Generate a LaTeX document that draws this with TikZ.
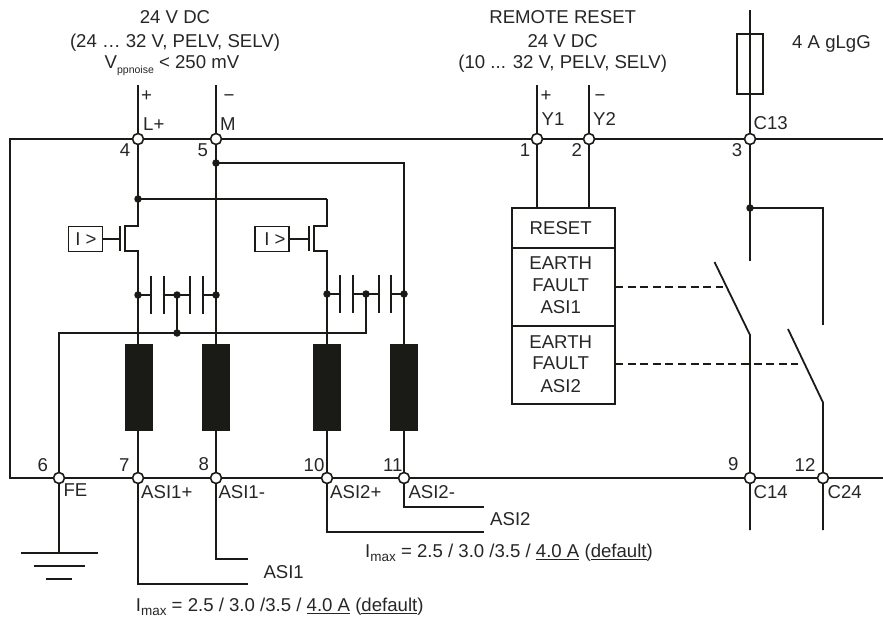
\documentclass[tikz,border=0pt]{standalone}
\usepackage{fontspec}
\setmainfont{Liberation Sans}
\definecolor{ink}{HTML}{1A1A17}
\definecolor{txt}{HTML}{262626}
\tikzset{
  wire/.style={draw=ink,line width=1.8pt},
  term/.style={circle,draw=ink,fill=white,line width=1.6pt,minimum size=11pt,inner sep=0pt},
  dot/.style={circle,fill=ink,draw=none,minimum size=7.5pt,inner sep=0pt},
  block/.style={rectangle,fill=ink,draw=none,minimum width=28pt,minimum height=87pt,inner sep=0pt},
  lbl/.style={text=txt,inner sep=0pt,anchor=base west,font=\fontsize{18.6}{22}\selectfont},
  ctr/.style={text=txt,inner sep=0pt,anchor=base,font=\fontsize{18.6}{22}\selectfont},
  ibox/.style={rectangle,draw=ink,line width=1.8pt,fill=white,minimum width=34pt,minimum height=25pt,inner sep=0pt},
  dashline/.style={draw=ink,line width=1.4pt,dash pattern=on 8pt off 4.6pt},
  thin bar/.style={draw=ink,line width=1.8pt}
}
\newcommand{\subx}[1]{\raisebox{-3.5pt}{\fontsize{13.5}{15}\selectfont #1}}
\begin{document}
\begin{tikzpicture}[x=1pt,y=-1pt]
\useasboundingbox (0,0) rectangle (883,618);
% named points
\coordinate (TL) at (10,139); \coordinate (BL) at (10,478);
\coordinate (TR) at (883,139); \coordinate (BR) at (883,478);
\coordinate (w4) at (138,85); \coordinate (w5) at (216,85);
\coordinate (w1) at (537,85); \coordinate (w2) at (589,85);
\coordinate (w3) at (750,10); \coordinate (c3) at (750,261);
\coordinate (s1a) at (714.5,262); \coordinate (s1b) at (750,335);
\coordinate (s2a) at (788,329); \coordinate (s2b) at (823,402.5);
\coordinate (c12) at (823,325);
\coordinate (e9) at (750,530); \coordinate (e12) at (823,530);
\coordinate (gnd) at (59,553);
% terminals (drawn on top later)
\path (138,139) coordinate (t4) (216,139) coordinate (t5) (537,139) coordinate (t1)
      (589,139) coordinate (t2) (750,139) coordinate (t3)
      (59,478) coordinate (t6) (138,478) coordinate (t7) (216,478) coordinate (t8)
      (327,478) coordinate (t10) (404,478) coordinate (t11) (750,478) coordinate (t9)
      (823,478) coordinate (t12);
% bus
\draw[wire] (TR) -- (TL) -- (BL) -- (BR);
% junction points
\path (138,199) coordinate (j4) (216,163) coordinate (j5) (327,199) coordinate (j4r)
      (404,163) coordinate (j5r) (750,208) coordinate (j3) (823,208) coordinate (j3r)
      (138,295) coordinate (ca) (177,295) coordinate (cb) (216,295) coordinate (cc)
      (327,294) coordinate (da) (366,294) coordinate (db) (404,294) coordinate (dc)
      (177,333) coordinate (fj) (366,333) coordinate (fr) (59,333) coordinate (fl);
% vertical feeds
\draw[wire] (w5) -- (t5) -- (t8);
\draw[wire] (w1) -- (t1) -- (537,208) coordinate (bx1);
\draw[wire] (w2) -- (t2) -- (589,208) coordinate (bx2);
\draw[wire] (w3) -- (c3);
\draw[wire] (j3) -- (j3r) -- (c12);
\draw[wire] (s1a) -- (s1b) -- (e9);
\draw[wire] (s2a) -- (s2b) -- (e12);
\draw[wire] (j5) -- (j5r) -- (t11);
\draw[wire] (j4) -- (j4r);
% MOSFET 1
\coordinate (m1d) at (138,226); \coordinate (m1s) at (138,251);
\coordinate (m1cd) at (125,226); \coordinate (m1cs) at (125,251);
\coordinate (m1gt) at (120,226); \coordinate (m1gb) at (120,251); \coordinate (m1g) at (120,239);
\draw[wire] (w4) -- (t4) -- (m1d) -- (m1cd) -- (m1cs) -- (m1s) -- (t7);
\draw[wire] (m1gt) -- (m1gb);
% MOSFET 2
\coordinate (m2d) at (327,226); \coordinate (m2s) at (327,251);
\coordinate (m2cd) at (314,226); \coordinate (m2cs) at (314,251);
\coordinate (m2gt) at (309,226); \coordinate (m2gb) at (309,251); \coordinate (m2g) at (309,239);
\draw[wire] (j4r) -- (m2d) -- (m2cd) -- (m2cs) -- (m2s) -- (t10);
\draw[wire] (m2gt) -- (m2gb);
% current sensing boxes
\node[ibox] (ib1) at (85.5,239) {};
\node[ibox] (ib2) at (271.7,239) {};
\draw[wire] (ib1.east) -- (m1g);
\draw[wire] (ib2.east) -- (m2g);
\node[ctr] (ib1t) at (86,245) {I >};
\node[ctr] (ib2t) at (275,245) {I >};
% capacitors left
\path (151,295) coordinate (p1) (164,295) coordinate (p2) (190,295) coordinate (p3) (203,295) coordinate (p4);
\draw[wire] (ca) -- (p1) (p2) -- (p3) (p4) -- (cc);
\foreach \x in {151,164,190,203} \draw[thin bar] (\x,276) -- (\x,314);
% capacitors right
\path (340,294) coordinate (q1) (353,294) coordinate (q2) (379,294) coordinate (q3) (391,294) coordinate (q4);
\draw[wire] (da) -- (q1) (q2) -- (q3) (q4) -- (dc);
\foreach \x in {340,353,379,391} \draw[thin bar] (\x,275) -- (\x,313);
% FE
\draw[wire] (cb) -- (fj);
\draw[wire] (db) -- (fr) -- (fl) -- (t6) -- (gnd);
\draw[wire] (20.5,553) -- (97.5,553);
\draw[wire] (33.5,566) -- (84.5,566);
\draw[wire] (46,579) -- (71.5,579);
% chokes
\node[block] (b1) at (138.7,387.7) {};
\node[block] (b2) at (215.5,387.7) {};
\node[block] (b3) at (327.2,387.7) {};
\node[block] (b4) at (404.2,387.7) {};
% output wires
\coordinate (a1p) at (248,584); \coordinate (a1m) at (248,559);
\coordinate (a2p) at (484.3,532); \coordinate (a2m) at (483.7,507);
\draw[wire] (t7) |- (a1p);
\draw[wire] (t8) |- (a1m);
\draw[wire] (t10) |- (a2p);
\draw[wire] (t11) |- (a2m);
% fuse
\draw[wire] (737,34) rectangle (763,94);
% control box
\draw[wire] (512,208) rectangle (615,404);
\coordinate (sL1) at (512,248); \coordinate (sR1) at (615,248);
\coordinate (sL2) at (512,326); \coordinate (sR2) at (615,326);
\draw[wire] (sL1) -- (sR1);
\draw[wire,line width=2.2pt] (sL2) -- (sR2);
\coordinate (d1a) at (615,287); \coordinate (d1b) at (723,287);
\coordinate (d2a) at (615,364); \coordinate (d2b) at (798,364);
\draw[dashline] (d1a) -- (d1b);
\draw[dashline] (d2a) -- (d2b);
% dots
\foreach \n in {j4,j5,j3,ca,cb,cc,da,db,dc,fj}
  \node[dot] (dot\n) at (\n) {};
% terminals
\foreach \n in {t1,t2,t3,t4,t5,t6,t7,t8,t9,t10,t11,t12}
  \node[term] (n\n) at (\n) {};
% top labels
\node[ctr] (h1) at (175,24) {24 V DC};
\node[ctr] (h2) at (175,47.5) {(24 … 32 V, PELV, SELV)};
\node[lbl] (h3) at (104.5,69) {V\raisebox{-5pt}{\fontsize{10.5}{11}\selectfont ppnoise} < 250 mV};
\node[ctr] (r1) at (562.7,24) {REMOTE RESET};
\node[ctr] (r2) at (562.7,47.5) {24 V DC};
\node[ctr] (r3) at (562.7,69) {(10 ... 32 V, PELV, SELV)};
\node[lbl] (fu) at (792,48.5) {4 A gLgG};
% polarity
\node[ctr] (pl1) at (146.5,101) {+};
\node[ctr] (mi1) at (229,101) {−};
\node[ctr] (pl2) at (546,101) {+};
\node[ctr] (mi2) at (600,101) {−};
% top terminal names
\node[lbl] (Lp) at (143,130.5) {L+};
\node[lbl] (M) at (220,130.5) {M};
\node[lbl] (Y1) at (541.5,125.5) {Y1};
\node[lbl] (Y2) at (593,125.5) {Y2};
\node[lbl] (C13) at (753.5,129.5) {C13};
% top numbers
\node[ctr] (no4) at (125,156.5) {4};
\node[ctr] (no5) at (202.7,156.5) {5};
\node[ctr] (no1) at (525,156.5) {1};
\node[ctr] (no2) at (576.7,156.5) {2};
\node[ctr] (no3) at (737,156.5) {3};
% box text
\node[ctr] (bxa) at (560.7,234.5) {RESET};
\node[ctr] (bxb) at (560.7,269.5) {EARTH};
\node[ctr] (bxc) at (560.7,291.5) {FAULT};
\node[ctr] (bxd) at (560.7,313.5) {ASI1};
\node[ctr] (bxe) at (560.7,348) {EARTH};
\node[ctr] (bxf) at (560.7,369.5) {FAULT};
\node[ctr] (bxg) at (560.7,392.5) {ASI2};
% bottom numbers
\node[ctr] (no6) at (42.7,471.5) {6};
\node[ctr] (no7) at (124.3,471.5) {7};
\node[ctr] (no8) at (203.7,470.5) {8};
\node[ctr] (no10) at (314,471.5) {10};
\node[ctr] (no11) at (392.7,471.5) {11};
\node[ctr] (no9) at (733.3,470) {9};
\node[ctr] (no12) at (805,471.5) {12};
% bottom terminal names
\node[lbl] (FE) at (63.3,496.5) {FE};
\node[lbl] (A1p) at (141,498.5) {ASI1+};
\node[lbl] (A1m) at (218.3,498.5) {ASI1-};
\node[lbl] (A2p) at (330,498.5) {ASI2+};
\node[lbl] (A2m) at (408.3,498.5) {ASI2-};
\node[lbl] (C14) at (753.5,498) {C14};
\node[lbl] (C24) at (827.5,498) {C24};
\node[lbl] (A1) at (263.3,578) {ASI1};
\node[lbl] (A2) at (490,525.5) {ASI2};
\node[lbl] (I1) at (135.7,611.5) {I\subx{max} = 2.5 / 3.0 /3.5 / \underline{4.0 A} (\underline{default})};
\node[lbl] (I2) at (365,557.5) {I\subx{max} = 2.5 / 3.0 /3.5 / \underline{4.0 A} (\underline{default})};
\end{tikzpicture}
\end{document}
